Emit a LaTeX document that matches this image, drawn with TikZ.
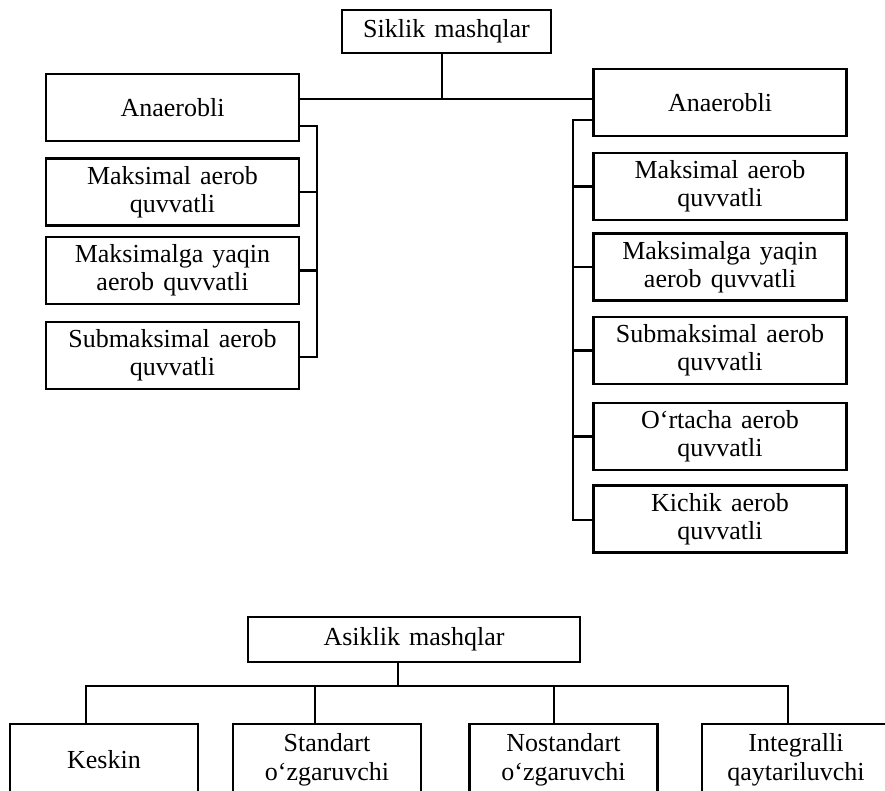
\documentclass[tikz,border=0pt]{standalone}
\usepackage{fontspec}
\setmainfont{Liberation Serif}[WordSpace=1.4]
\begin{document}
\begin{tikzpicture}[x=1pt,y=-1pt,
  box/.style={draw, line width=2.4pt, minimum width=253pt, minimum height=67pt, inner sep=0pt, align=center, font=\fontsize{26}{28}\selectfont},
  top/.style={box, minimum width=209pt, minimum height=43pt},
  bbox/.style={box, minimum width=188pt, minimum height=72pt, font=\fontsize{26}{29}\selectfont},
  conn/.style={line width=2.4pt}]
\useasboundingbox (0,0) rectangle (885,790);
\fill[white] (0,0) rectangle (885,790);
\clip (0,0) rectangle (885,790);
% top tree
\node[top] (sik) at (446.5,31.5) {Siklik mashqlar};
\node[box] (la) at (172.5,107.5) {Anaerobli};
\node[box] (l1) at (172.5,192) {Maksimal aerob\\quvvatli};
\node[box] (l2) at (172.5,270.5) {Maksimalga yaqin\\aerob quvvatli};
\node[box] (l3) at (172.5,355.5) {Submaksimal aerob\\quvvatli};
\node[box] (ra) at (720,102.5) {Anaerobli};
\node[box] (r1) at (720,186.5) {Maksimal aerob\\quvvatli};
\node[box] (r2) at (720,267) {Maksimalga yaqin\\aerob quvvatli};
\node[box] (r3) at (720,350.5) {Submaksimal aerob\\quvvatli};
\node[box] (r4) at (720,436.5) {O‘rtacha aerob\\quvvatli};
\node[box] (r5) at (720,519) {Kichik aerob\\quvvatli};
\coordinate (hub) at (442,99);
\coordinate (lbt) at (317,126);
\coordinate (lbb) at (317,357);
\coordinate (rbt) at (573,120);
\coordinate (rbb) at (573,520);
\draw[conn] (sik.south -| hub) -- (hub);
\draw[conn] (la.east |- hub) -- (ra.west |- hub);
\draw[conn] (la.east |- lbt) -- (lbt) -- (lbb) -- (l3.east |- lbb);
\draw[conn] (l1.east) -- (l1.east -| lbt);
\draw[conn] (l2.east) -- (l2.east -| lbt);
\draw[conn] (ra.west |- rbt) -- (rbt) -- (rbb) -- (r5.west |- rbb);
\draw[conn] (r1.west) -- (r1.west -| rbt);
\draw[conn] (r2.west) -- (r2.west -| rbt);
\draw[conn] (r3.west) -- (r3.west -| rbt);
\draw[conn] (r4.west) -- (r4.west -| rbt);
% bottom tree
\node[top, minimum width=332pt, minimum height=45pt, font=\fontsize{26}{29}\selectfont] (asi) at (414,639.5) {Asiklik mashqlar};
\node[bbox] (b1) at (104,760) {Keskin};
\node[bbox] (b2) at (327,760) {Standart\\o‘zgaruvchi};
\node[bbox] (b3) at (563.5,760) {Nostandart\\o‘zgaruvchi};
\node[bbox] (b4) at (796,760) {Integralli\\qaytariluvchi};
\coordinate (bh) at (398,686);
\coordinate (d1) at (86,686);
\coordinate (d2) at (315,686);
\coordinate (d3) at (554,686);
\coordinate (d4) at (788,686);
\draw[conn] (asi.south -| bh) -- (bh);
\draw[conn] (b1.north -| d1) -- (d1) -- (d4) -- (b4.north -| d4);
\draw[conn] (d2) -- (b2.north -| d2);
\draw[conn] (d3) -- (b3.north -| d3);
\end{tikzpicture}
\end{document}
